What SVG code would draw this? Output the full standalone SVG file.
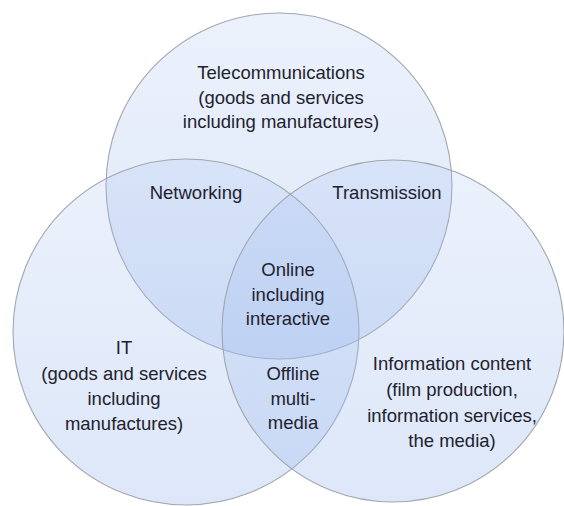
<svg xmlns="http://www.w3.org/2000/svg" width="564" height="506" viewBox="0 0 564 506">
<defs>
<linearGradient id="g" x1="0" y1="0" x2="0" y2="1">
<stop offset="0" stop-color="rgb(160,188,238)" stop-opacity="0.2"/>
<stop offset="1" stop-color="rgb(160,188,238)" stop-opacity="0.36"/>
</linearGradient>
</defs>
<style>
.c{fill:url(#g);stroke:#a2a6ad;stroke-width:1.1}
text{font-family:"Liberation Sans",Arial,sans-serif;font-size:18.5px;fill:#22222e;text-anchor:middle}
</style>
<rect width="564" height="506" fill="#ffffff"/>
<g id="telecom"><circle class="c" cx="279" cy="186" r="173"/></g>
<g id="it"><circle class="c" cx="186" cy="332" r="173"/></g>
<g id="content"><circle class="c" cx="393" cy="331" r="171"/></g>
<g id="connectors"></g>
<g id="telecom-label">
<text x="281" y="79">Telecommunications</text>
<text x="281" y="104">(goods and services</text>
<text x="281" y="128">including manufactures)</text>
</g>
<g id="networking"><text x="196" y="199">Networking</text></g>
<g id="transmission"><text x="387" y="199">Transmission</text></g>
<g id="online">
<text x="288" y="276">Online</text>
<text x="288" y="301">including</text>
<text x="288" y="325">interactive</text>
</g>
<g id="offline">
<text x="293" y="380">Offline</text>
<text x="293" y="405">multi-</text>
<text x="293" y="429">media</text>
</g>
<g id="it-label">
<text x="124" y="354">IT</text>
<text x="124" y="380">(goods and services</text>
<text x="124" y="405">including</text>
<text x="124" y="430">manufactures)</text>
</g>
<g id="content-label">
<text x="452" y="370">Information content</text>
<text x="452" y="396">(film production,</text>
<text x="452" y="422">information services,</text>
<text x="452" y="447">the media)</text>
</g>
</svg>
